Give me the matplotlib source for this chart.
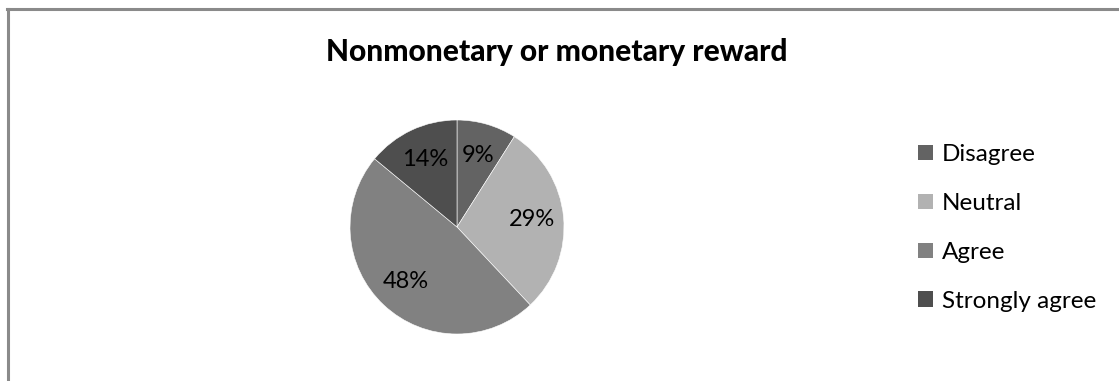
import matplotlib
matplotlib.use('Agg')
import matplotlib.pyplot as plt
from matplotlib.patches import Patch
from matplotlib.lines import Line2D

plt.rcParams['font.family'] = ['Lato', 'DejaVu Sans']

# survey answers, share of respondents in percent
answers = ['Disagree', 'Neutral', 'Agree', 'Strongly agree']
shares = [9, 29, 48, 14]
greys = ['#636363', '#b2b2b2', '#818181', '#4e4e4e']

W, H = 1119, 381
fig = plt.figure(figsize=(W / 100, H / 100), dpi=100)
fig.patch.set_facecolor('white')

# chart frame, only the left and top edges show
fig.add_artist(Line2D([7.5 / W, 7.5 / W], [0, 1 - 8.5 / H], transform=fig.transFigure,
                      color='#8a8a8a', lw=2.2))
fig.add_artist(Line2D([6.5 / W, 1], [1 - 8.5 / H, 1 - 8.5 / H], transform=fig.transFigure,
                      color='#8a8a8a', lw=2.2))

fig.text(557 / W, 1 - 52 / H, 'Nonmonetary or monetary reward', ha='center', va='center',
         fontsize=21.5, fontweight='black', color='black')

cx, cy, r = 457, 227, 107
ax = fig.add_axes([(cx - r) / W, (H - cy - r) / H, 2 * r / W, 2 * r / H])
wedges, _, pct = ax.pie(shares, colors=greys, startangle=90, counterclock=False,
                        autopct=lambda p: '%d%%' % round(p), pctdistance=0.7,
                        wedgeprops=dict(edgecolor='white', linewidth=0.4),
                        textprops=dict(fontsize=17, color='black'), radius=1)
ax.set_xlim(-1, 1)
ax.set_ylim(-1, 1)
ax.axis('off')

handles = [Patch(facecolor=c, edgecolor='none') for c in greys]
fig.legend(handles, answers, loc='center left', bbox_to_anchor=(906 / W, 1 - 228 / H),
           frameon=False, fontsize=17.5, handlelength=0.62, handleheight=0.62,
           handletextpad=0.35, labelspacing=1.15, borderpad=0)

fig.savefig('out.png', dpi=100, facecolor='white')
